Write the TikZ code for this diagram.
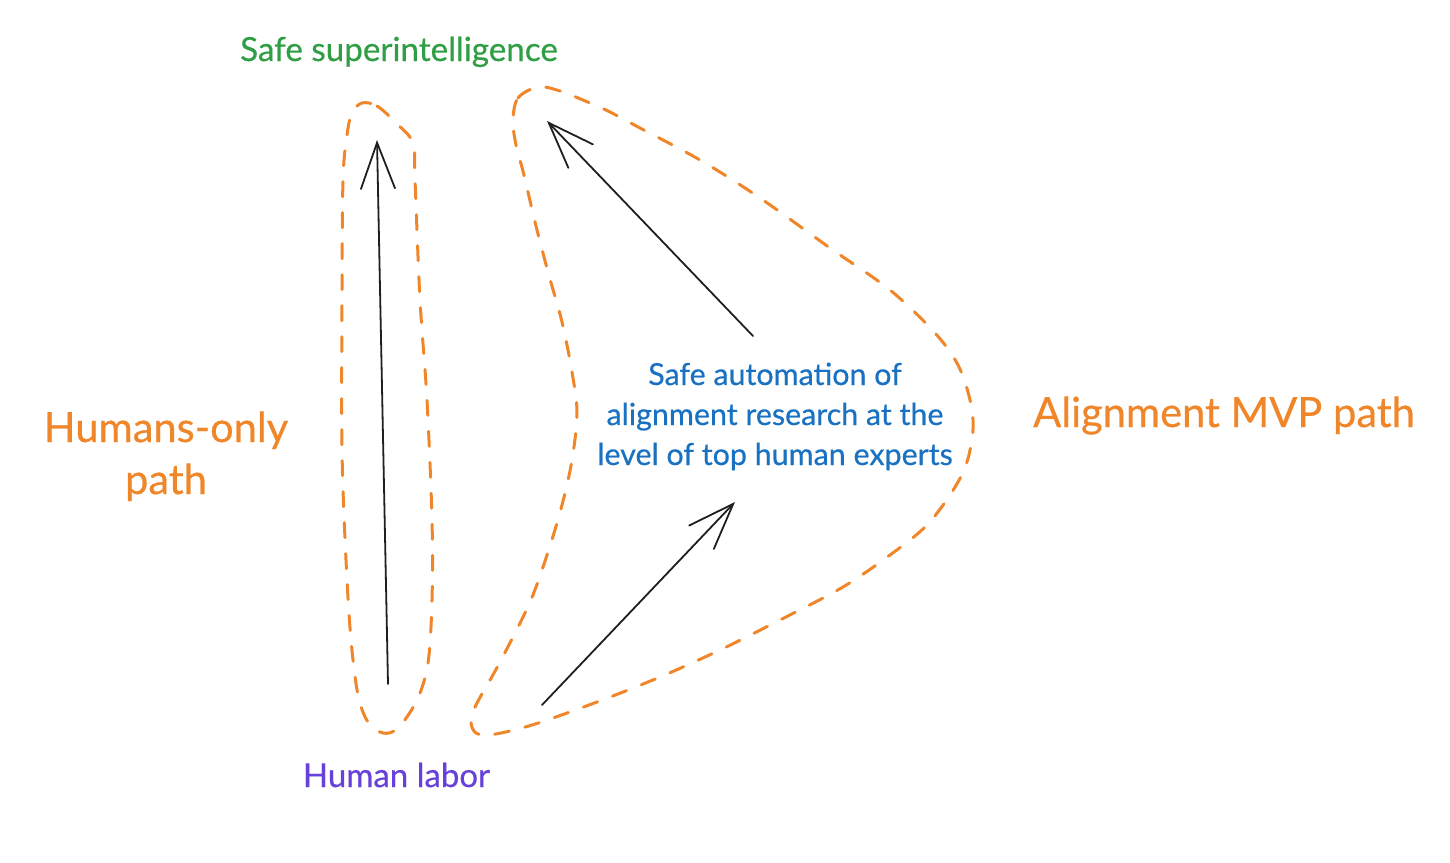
\documentclass[tikz,border=0pt]{standalone}
\usepackage{fontspec}
\setmainfont{Lato}[FakeBold=0.5]
\usetikzlibrary{arrows.meta}
\definecolor{ora}{HTML}{F0862A}
\definecolor{grn}{HTML}{2F9E44}
\definecolor{blu}{HTML}{1971C2}
\definecolor{pur}{HTML}{6741D9}
\tikzset{
  outline/.style={draw=ora, line width=1.5pt, dash pattern=on 7.5pt off 8pt, line cap=round},
  arr/.style={draw=black!88, line width=0.9pt, line cap=round, -{Straight Barb[length=23pt,width=17pt,line cap=round]}},
  lbl/.style={inner sep=0pt, anchor=base},
  goal/.style={lbl, text=grn, font=\fontsize{16.6}{20}\selectfont},
  mid/.style={lbl, text=blu, font=\fontsize{15.2}{20}\selectfont},
  src/.style={lbl, text=pur, font=\fontsize{16.5}{20}\selectfont},
  path/.style={lbl, text=ora, font=\fontsize{20.8}{26}\selectfont},
}
\begin{document}
\begin{tikzpicture}[x=0.5pt,y=-0.5pt]
\path[use as bounding box] (0,0) rectangle (1450,862);
% text nodes
\node[goal] (goal) at (399,61) {Safe superintelligence};
\node[mid] (mid1) at (775,385) {Safe automation of};
\node[mid] (mid2) at (775,425) {alignment research at the};
\node[mid] (mid3) at (775,465) {level of top human experts};
\node[src] (labor) at (396.5,787) {Human labor};
\node[path] (hp1) at (166,442) {Humans-only};
\node[path] (hp2) at (166,494) {path};
\node[path] (mvp) at (1224,427) {Alignment MVP path};
% arrow ends
\coordinate (a1s) at (388,684);
\coordinate (a1e) at (377,140);
\coordinate (a2s) at (753,336);
\coordinate (a2e) at (547,121);
\coordinate (a3s) at (542,705);
\coordinate (a3e) at (735,502);
\draw[arr] (a1s) -- (a1e);
\draw[arr] (a2s) -- (a2e);
\draw[arr] (a3s) -- (a3e);
% humans-only outline
\draw[outline] plot[smooth cycle, tension=0.55] coordinates {
 (362,103) (377,106) (395,122) (413,143) (415,180) (420,300) (427,400)
 (432,520) (432,600) (428,663) (417,700) (398,728) (383,733) (368,722)
 (358,695) (351,640) (346,560) (342,450) (342,300) (343,180) (347,135) (352,113)};
% alignment MVP outline
\draw[outline] plot[smooth cycle, tension=0.55] coordinates {
 (513,120) (518,98) (538,87) (560,91) (590,103) (610,112) (640,128) (700,160)
 (760,198) (830,248) (890,290) (935,333) (958,365) (970,400) (973,430)
 (966,465) (950,495) (925,527) (890,555) (843,587) (780,620) (720,650)
 (660,677) (597,702) (532,725) (490,735) (476,733) (471,722) (476,705)
 (500,662) (530,602) (548,552) (562,505) (572,460) (577,413) (572,372)
 (562,322) (548,272) (535,222) (524,175) (516,145)};
\end{tikzpicture}
\end{document}
